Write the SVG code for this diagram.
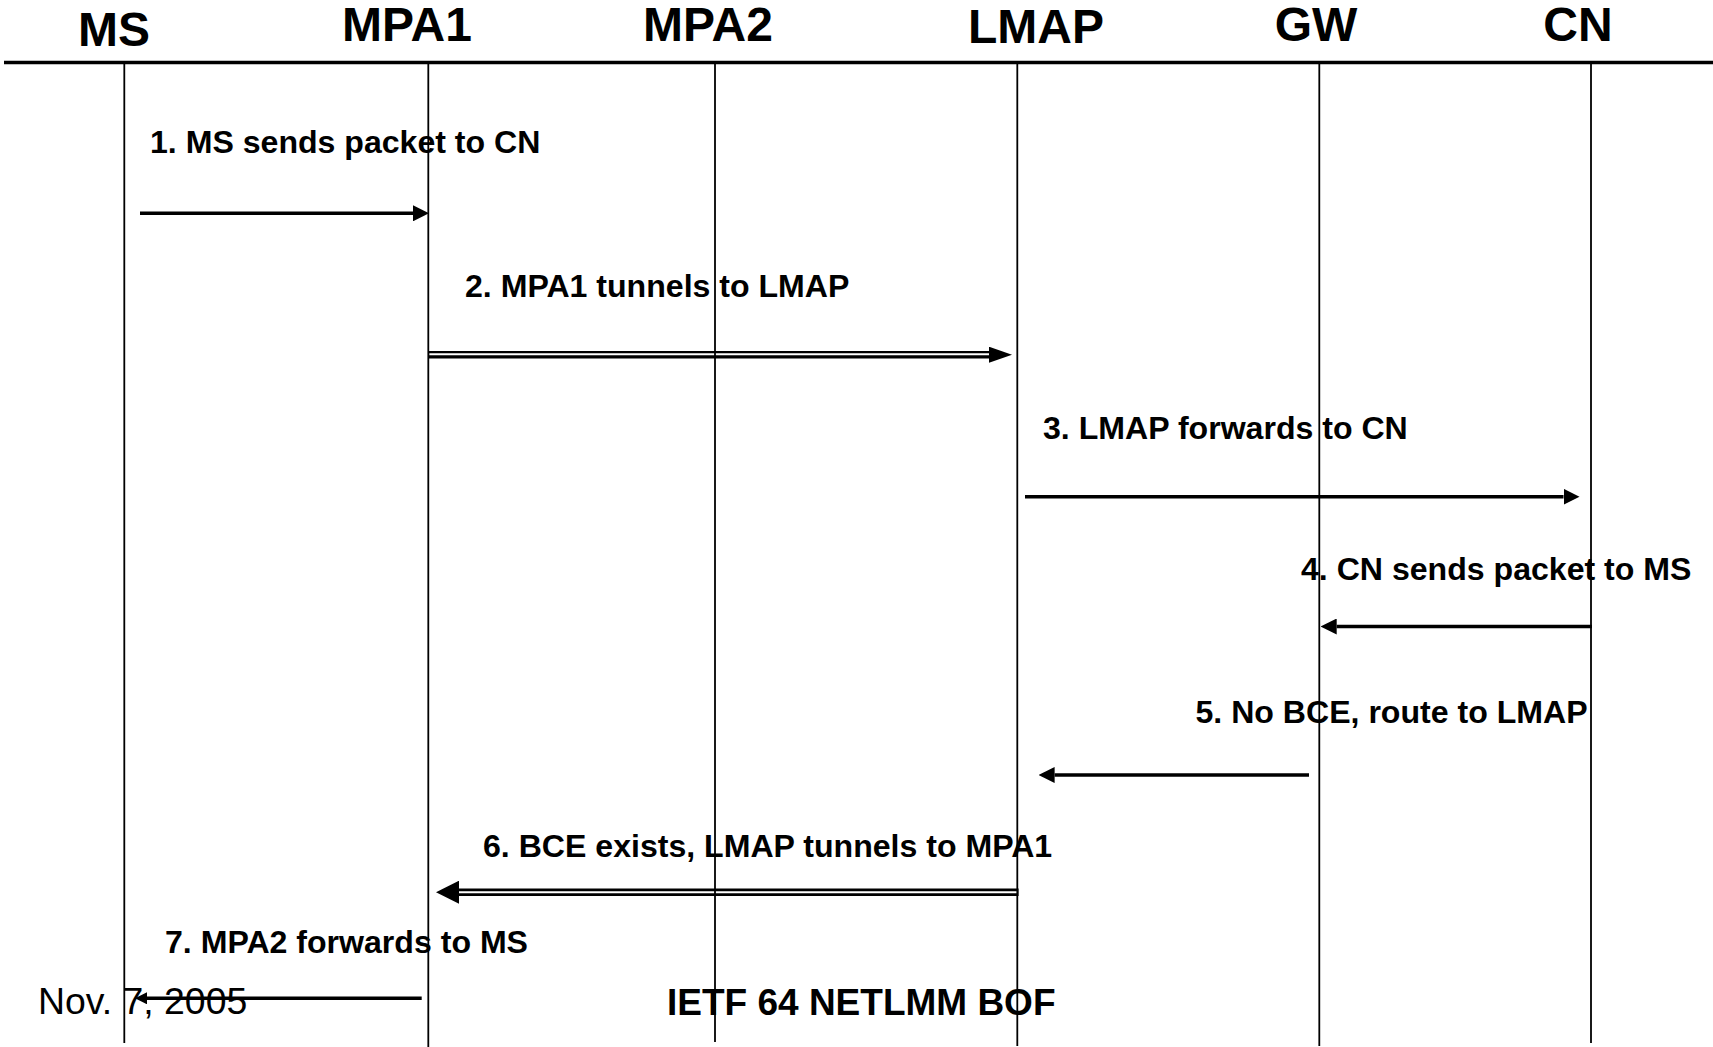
<svg xmlns="http://www.w3.org/2000/svg" width="1713" height="1047" viewBox="0 0 1713 1047">
<style>
.hdr{font-family:"Liberation Sans",Arial,sans-serif;font-weight:bold;font-size:48px;fill:#000;text-anchor:middle}
.lbl{font-family:"Liberation Sans",Arial,sans-serif;font-weight:bold;font-size:32.1px;fill:#000}
.foot{font-family:"Liberation Sans",Arial,sans-serif;font-size:37.4px;fill:#000}
.footb{font-family:"Liberation Sans",Arial,sans-serif;font-weight:bold;font-size:37px;fill:#000}
.life{stroke:#000;stroke-width:1.8;fill:none}
.msg{stroke:#000;stroke-width:3.6;fill:none}
.dbl{stroke:#000;stroke-width:7.4;fill:none}
.gap{stroke:#fff;stroke-width:2.1;fill:none}
</style>
<defs>
<marker id="ah" markerUnits="userSpaceOnUse" markerWidth="16" markerHeight="16" refX="0" refY="8" orient="auto" viewBox="0 0 16 16"><path d="M0,0 L16,8 L0,16 Z" fill="#000"/></marker>
<marker id="ahs" markerUnits="userSpaceOnUse" markerWidth="12" markerHeight="12" refX="0" refY="6" orient="auto" viewBox="0 0 12 12"><path d="M0,0 L12,6 L0,12 Z" fill="#000"/></marker>
<marker id="dh2" markerUnits="userSpaceOnUse" markerWidth="23" markerHeight="16" refX="0" refY="8" orient="auto" viewBox="0 0 23 16"><path d="M0,0 L23,8 L0,16 Z" fill="#000"/></marker>
<marker id="dh6" markerUnits="userSpaceOnUse" markerWidth="23" markerHeight="23" refX="0" refY="11.5" orient="auto" viewBox="0 0 23 23"><path d="M0,0 L23,11.5 L0,23 Z" fill="#000"/></marker>
</defs>
<rect width="1713" height="1047" fill="#fff"/>
<line x1="4" y1="62.5" x2="1713" y2="62.5" stroke="#000" stroke-width="3.7"/>
<g id="connectors">
<text class="lbl" x="150" y="153.3">1. MS sends packet to CN</text>
<line class="msg" x1="140" y1="213.3" x2="413" y2="213.3" marker-end="url(#ah)"/>
<text class="lbl" x="465" y="296.7">2. MPA1 tunnels to LMAP</text>
<line class="dbl" x1="428.3" y1="354.7" x2="989" y2="354.7" marker-end="url(#dh2)"/>
<line class="gap" x1="429.2" y1="354.2" x2="989" y2="354.2"/>
<text class="lbl" x="1043" y="439.3">3. LMAP forwards to CN</text>
<line class="msg" x1="1025" y1="496.7" x2="1563.5" y2="496.7" marker-end="url(#ah)"/>
<text class="lbl" x="1301" y="580">4. CN sends packet to MS</text>
<line class="msg" x1="1592" y1="626.5" x2="1336.7" y2="626.5" marker-end="url(#ah)"/>
<text class="lbl" x="1195.5" y="722.7">5. No BCE, route to LMAP</text>
<line class="msg" x1="1309" y1="775" x2="1054.6" y2="775" marker-end="url(#ah)"/>
<text class="lbl" x="483" y="857">6. BCE exists, LMAP tunnels to MPA1</text>
<line class="dbl" x1="1018.6" y1="892.2" x2="459" y2="892.2" marker-end="url(#dh6)"/>
<line class="gap" x1="1017.5" y1="892.2" x2="459" y2="892.2"/>
<text class="lbl" x="165" y="953.3">7. MPA2 forwards to MS</text>
<line class="msg" x1="421.7" y1="998.3" x2="147" y2="998.3" marker-end="url(#ahs)"/>
</g>
<g id="footer">
<text class="foot" x="38" y="1014.3">Nov. 7, 2005</text>
<text class="footb" x="667" y="1015">IETF 64 NETLMM BOF</text>
</g>
<g id="node-MS">
<text class="hdr" x="114" y="45.5">MS</text>
<line class="life" x1="124.3" y1="64" x2="124.3" y2="1043"/>
</g>
<g id="node-MPA1">
<text class="hdr" x="407" y="40.5">MPA1</text>
<line class="life" x1="428.3" y1="64" x2="428.3" y2="1047"/>
</g>
<g id="node-MPA2">
<text class="hdr" x="708" y="40.5">MPA2</text>
<line class="life" x1="715" y1="64" x2="715" y2="1042"/>
</g>
<g id="node-LMAP">
<text class="hdr" x="1036" y="43">LMAP</text>
<line class="life" x1="1017.3" y1="64" x2="1017.3" y2="1046"/>
</g>
<g id="node-GW">
<text class="hdr" x="1316" y="40.5">GW</text>
<line class="life" x1="1319.3" y1="64" x2="1319.3" y2="1046"/>
</g>
<g id="node-CN">
<text class="hdr" x="1578" y="40.5">CN</text>
<line class="life" x1="1591" y1="64" x2="1591" y2="1043"/>
</g>
</svg>
